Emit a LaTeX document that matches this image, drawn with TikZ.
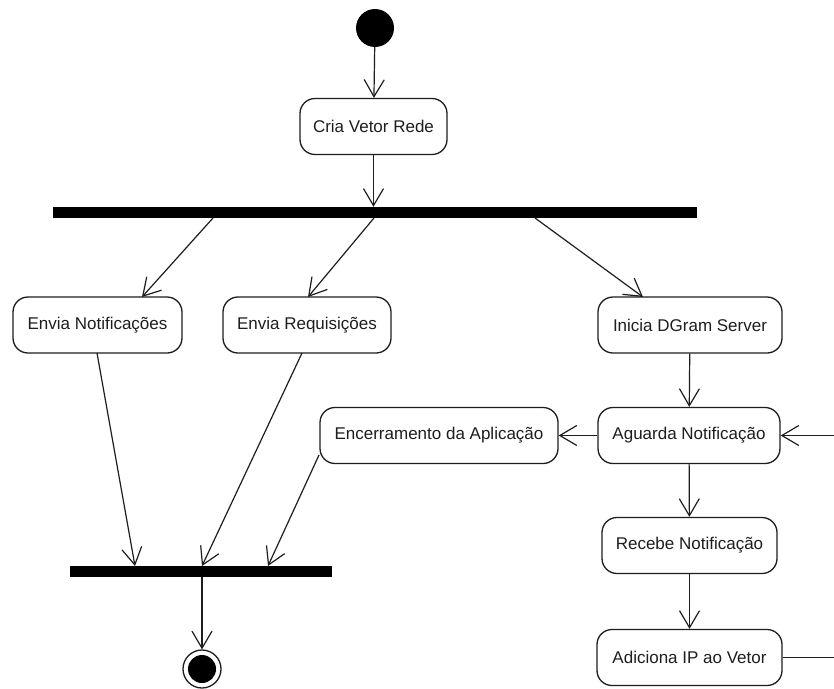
\documentclass[tikz,border=0pt]{standalone}
\usepackage{fontspec}
\setmainfont{Liberation Sans}
\usetikzlibrary{arrows.meta}
\definecolor{ink}{HTML}{1E1E1E}
\tikzset{
  act/.style={draw=ink, line width=1.3pt, rounded corners=15pt, minimum height=56pt,
    inner sep=0pt, align=center, font=\fontsize{17}{20}\selectfont, text=ink},
  bar/.style={fill=black, draw=none, minimum height=11pt, inner sep=0pt},
  flow/.style={draw=ink, line width=1.2pt, -{Straight Barb[length=17pt,width=20pt,line width=1.2pt]}},
  plain/.style={draw=ink, line width=1.2pt}
}
\begin{document}
\begin{tikzpicture}[x=1pt,y=-1pt]
\useasboundingbox (0,0) rectangle (834,688);
\clip (0,0) rectangle (834,688);
\fill[white] (0,0) rectangle (834,688);
% start
\node[circle, fill=black, minimum size=38pt, inner sep=0pt] (start) at (375,28) {};
\node[act, minimum width=147pt] (cria) at (373.5,126.5) {Cria Vetor Rede};
\node[bar, minimum width=644pt] (fork) at (375,212.5) {};
\node[act, minimum width=169pt] (notif) at (97.5,325) {Envia Notificações};
\node[act, minimum width=168pt] (req) at (307,325) {Envia Requisições};
\node[act, minimum width=184pt] (dgram) at (690,325) {Inicia DGram Server};
\node[act, minimum width=182pt] (aguarda) at (689,435.5) {Aguarda Notificação};
\node[act, minimum width=238pt] (encerra) at (439,435.5) {Encerramento da Aplicação};
\node[act, minimum width=175pt] (recebe) at (689.5,545.5) {Recebe Notificação};
\node[act, minimum width=185pt] (adiciona) at (689.5,657.5) {Adiciona IP ao Vetor};
\node[bar, minimum width=262pt] (join) at (201,571.5) {};
\node[circle, draw=ink, line width=1.3pt, minimum size=38pt, inner sep=0pt] (final) at (202,669) {};
\node[circle, fill=black, minimum size=28pt, inner sep=0pt] (finalin) at (final.center) {};
% coordinates on bars / boxes
\coordinate (f1) at (213,218);
\coordinate (f2) at (374,218);
\coordinate (f3) at (535,218);
\coordinate (t1) at (142,297);
\coordinate (t2) at (308,297);
\coordinate (t3) at (643,297);
\coordinate (s1) at (97,353);
\coordinate (s2) at (302,353);
\coordinate (s3) at (319,455);
\coordinate (j1) at (135,566);
\coordinate (j2) at (202,566);
\coordinate (j3) at (268,566);
\coordinate (loopa) at (860,657.5);
\coordinate (loopb) at (860,435.5);
% connectors
\draw[flow] (start) -- (cria);
\draw[flow] (cria) -- (fork.north -| cria.south);
\draw[flow] (f1) -- (t1);
\draw[flow] (f2) -- (t2);
\draw[flow] (f3) -- (t3);
\draw[flow] (dgram) -- (aguarda);
\draw[flow] (aguarda) -- (encerra);
\draw[flow] (aguarda) -- (recebe);
\draw[flow] (recebe) -- (adiciona);
\draw[flow] (adiciona.east) -- (loopa) -- (loopb) -- (aguarda.east);
\draw[flow] (s1) -- (j1);
\draw[flow] (s2) -- (j2);
\draw[flow] (s3) -- (j3);
\draw[flow] (join.south -| final.north) -- (final.north);
\end{tikzpicture}
\end{document}
